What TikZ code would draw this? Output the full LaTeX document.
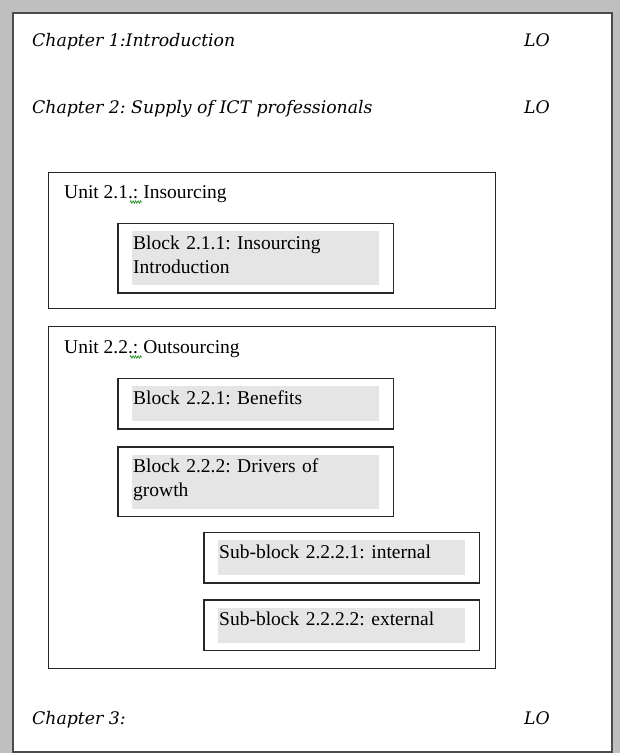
\documentclass[tikz,border=0pt]{standalone}
\usepackage{fontspec}
\setmainfont{Liberation Serif}
\newfontfamily\chapfont{DejaVu Serif}
\frenchspacing
\usetikzlibrary{positioning,fit,decorations.pathmorphing}

\begin{document}
\begin{tikzpicture}[
          x=1pt, y=-1pt,
          font=\fontsize{19.5}{24}\selectfont,
          chap/.style={anchor=base west, inner sep=0pt,
                       font=\chapfont\itshape\fontsize{17.3}{20}\selectfont},
          unitbox/.style={draw=black!85, line width=1pt, anchor=north west,
                          minimum width=447pt, inner sep=0pt},
          unittitle/.style={anchor=base west, inner sep=0pt},
          shade/.style={fill=black!10, align=left, anchor=north west,
                        inner xsep=1pt, inner ysep=2pt, text width=245pt,
                        text height=16pt, text depth=15pt},
          twoline/.style={text depth=34pt},
          frame/.style={draw=black!85, line width=1.3pt, inner xsep=14pt, inner ysep=7.5pt},
          squiggle/.style={draw=green!50!black, line width=0.6pt, decorate,
                           decoration={zigzag, amplitude=1.2pt, segment length=2.5pt}}
        ]
        % page
        \fill[black!25] (0,0) rectangle (620,753);
        \draw[fill=white, draw=black!70, line width=1.5pt] (13,13) rectangle (612,752);
        \useasboundingbox (0,0) rectangle (620,753);
        % chapters
        \node[chap] (ch1) at (32,46) {Chapter 1:Introduction};
        \node[chap] (lo1) at (524,46) {LO};
        \node[chap] (ch2) at (32,113) {Chapter 2: Supply of ICT professionals};
        \node[chap] (lo2) at (524,113) {LO};
        \node[chap] (ch3) at (32,724) {Chapter 3:};
        \node[chap] (lo3) at (524,724) {LO};
        % unit 2.1
        \node[unitbox, minimum height=136pt] (u1) at (48,172) {};
        \node[unittitle] (u1t) at (64,198) {Unit 2.1.: Insourcing};
        \draw[squiggle] (130,202) -- (142,202);
        \node[shade, twoline] (b211) at (132,231) {Block 2.1.1: Insourcing\\Introduction};
        \node[frame, fit=(b211)] (f211) {};
        % unit 2.2
        \node[unitbox, minimum height=342pt] (u2) at (48,326) {};
        \node[unittitle] (u2t) at (64,353) {Unit 2.2.: Outsourcing};
        \draw[squiggle] (130,357) -- (142,357);
        \node[shade] (b221) at (132,386) {Block 2.2.1: Benefits};
        \node[frame, fit=(b221)] (f221) {};
        \node[shade, twoline, below=33pt of b221.south west, anchor=north west] (b222) {Block 2.2.2: Drivers of\\growth};
        \node[frame, fit=(b222)] (f222) {};
        \node[shade] (s2221) at (218,540) {Sub-block 2.2.2.1: internal};
        \node[frame, fit=(s2221)] (fs2221) {};
        \node[shade, below=32pt of s2221.south west, anchor=north west] (s2222) {Sub-block 2.2.2.2: external};
        \node[frame, fit=(s2222)] (fs2222) {};
      \end{tikzpicture}
\end{document}
